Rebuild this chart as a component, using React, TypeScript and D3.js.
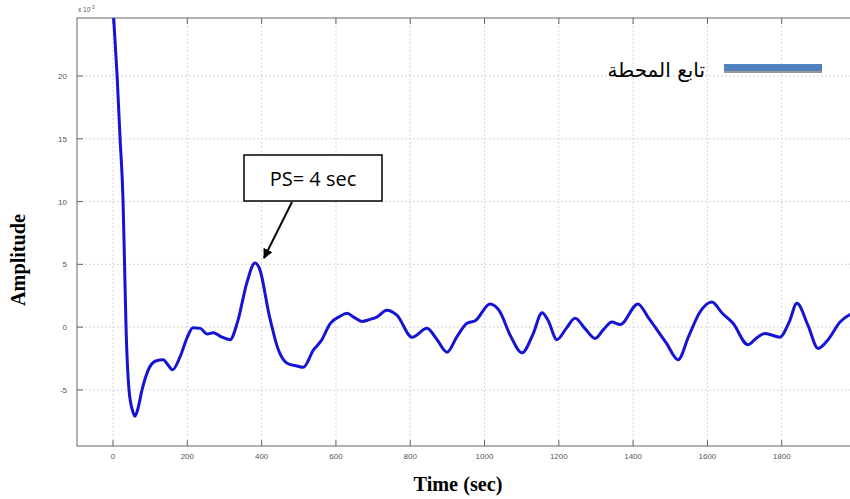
import React from "react";
import * as d3 from "d3";

// response (time in sec, amplitude in 1e-3)
const times = [0, 11, 19, 27, 31, 35, 43, 52, 59, 67, 78, 95, 115, 135, 150, 160, 180, 200, 215, 235, 253, 270, 290, 315, 335, 360, 382, 395, 420, 445, 470, 495, 512, 540, 560, 585, 610, 630, 650, 670, 690, 710, 737, 764, 805, 845, 870, 899, 925, 953, 975, 1015, 1040, 1070, 1101, 1130, 1155, 1170, 1195, 1220, 1244, 1270, 1298, 1320, 1343, 1365, 1413, 1440, 1464, 1490, 1521, 1550, 1580, 1612, 1640, 1669, 1709, 1735, 1755, 1795, 1820, 1841, 1870, 1898, 1925, 1957, 1984, 2000];
const amplitude = [25.5, 20, 15, 10, 5, 0, -5, -6.6, -7.1, -6.5, -5, -3.4, -2.7, -2.6, -3.1, -3.4, -2.4, -0.8, -0.05, -0.1, -0.55, -0.45, -0.75, -1.0, 0.4, 3.5, 5.1, 4.6, 1.0, -1.8, -2.9, -3.1, -3.2, -1.8, -1.1, 0.3, 0.85, 1.1, 0.75, 0.45, 0.6, 0.8, 1.35, 0.95, -0.8, -0.1, -0.9, -2.0, -0.8, 0.3, 0.5, 1.85, 1.3, -0.7, -2.05, -0.6, 1.15, 0.6, -1.0, -0.1, 0.7, -0.1, -0.9, -0.2, 0.4, 0.2, 1.85, 0.8, -0.2, -1.3, -2.6, -0.7, 1.2, 2.0, 1.1, 0.3, -1.4, -0.8, -0.5, -0.8, 0.4, 1.9, 0.2, -1.7, -1.0, 0.4, 1.0, 1.1];

const xTicks = [0, 200, 400, 600, 800, 1000, 1200, 1400, 1600, 1800];
const yTicks = [-5, 0, 5, 10, 15, 20];
const legendLabel = "تابع المحطة";
const noteLabel = "PS= 4 sec";

const W = 850;
const H = 499;

export default function App() {
  const left = 77, top = 18, bottom = 446, right = 856;
  const x = d3.scaleLinear().domain([-97, 2000]).range([left, right]);
  const y = d3.scaleLinear().domain([-9.47, 24.62]).range([bottom, top]);

  const pts = times.map((t, i) => [t, amplitude[i]] as [number, number]);
  const line = d3.line<[number, number]>()
    .x(d => x(d[0]))
    .y(d => y(d[1]))
    .curve(d3.curveMonotoneX);

  const axisColor = "#666";
  const gridColor = "#c8c8c8";

  return (
    <svg width={W} height={H} style={{ position: "absolute", left: 0, top: 0, background: "#fff" }}>
      <defs>
        <clipPath id="plot">
          <rect x={left} y={top} width={right - left} height={bottom - top} />
        </clipPath>
        <marker id="arrow" viewBox="0 0 10 10" refX="9" refY="5" markerWidth="5" markerHeight="5" orient="auto">
          <path d="M0,0 L10,5 L0,10 z" fill="#000" />
        </marker>
      </defs>

      {/* grid */}
      {xTicks.map(t => (
        <line key={"gx" + t} x1={x(t)} x2={x(t)} y1={top} y2={bottom}
          stroke={gridColor} strokeDasharray="1.5,2.5" />
      ))}
      {yTicks.map(v => (
        <line key={"gy" + v} x1={left} x2={right} y1={y(v)} y2={y(v)}
          stroke={gridColor} strokeDasharray="1.5,2.5" />
      ))}

      {/* axes box */}
      <rect x={left} y={top} width={right - left} height={bottom - top} fill="none" stroke={axisColor} strokeWidth={1} />
      {xTicks.map(t => (
        <g key={"tx" + t}>
          <line x1={x(t)} x2={x(t)} y1={bottom} y2={bottom - 6} stroke={axisColor} />
          <line x1={x(t)} x2={x(t)} y1={top} y2={top + 6} stroke={axisColor} />
          <text x={x(t)} y={bottom + 13} textAnchor="middle" fontFamily="Liberation Sans, Arial" fontSize={8} fill="#555">{t}</text>
        </g>
      ))}
      {yTicks.map(v => (
        <g key={"ty" + v}>
          <line x1={left} x2={left + 6} y1={y(v)} y2={y(v)} stroke={axisColor} />
          <text x={left - 10} y={y(v) + 3} textAnchor="end" fontFamily="Liberation Sans, Arial" fontSize={8} fill="#555">{v}</text>
        </g>
      ))}
      <text x={left + 1} y={top - 6} fontFamily="Liberation Sans, Arial" fontSize={6.5} fill="#555">
        x 10<tspan dy={-3} fontSize={5}>-3</tspan>
      </text>

      {/* curve */}
      <path d={line(pts) || ""} fill="none" stroke="#1414d2" strokeWidth={3} clipPath="url(#plot)" strokeLinejoin="round" />

      {/* legend */}
      <rect x={724} y={68} width={98} height={5} fill="#999" />
      <rect x={724} y={64} width={98} height={7} fill="#4f81bd" />
      <text x={705} y={77} textAnchor="end" fontFamily="DejaVu Sans, Noto Sans, sans-serif" fontSize={20} fill="#000">{legendLabel}</text>

      {/* annotation */}
      <rect x={244} y={155} width={138} height={46} fill="#fff" stroke="#000" strokeWidth={1.5} />
      <text x={313} y={186} textAnchor="middle" fontFamily="Open Sans, Liberation Sans, sans-serif" fontSize={20} fill="#000">{noteLabel}</text>
      <line x1={292} y1={202} x2={264} y2={258} stroke="#000" strokeWidth={2} markerEnd="url(#arrow)" />

      {/* axis titles */}
      <text x={458} y={491} textAnchor="middle" fontFamily="Liberation Serif, Times New Roman, serif" fontWeight="bold" fontSize={22} transform="translate(458,0) scale(0.92,1) translate(-458,0)">Time (sec)</text>
      <text transform={`translate(25,260) rotate(-90) scale(0.92,1)`} textAnchor="middle" fontFamily="Liberation Serif, Times New Roman, serif" fontWeight="bold" fontSize={22}>Amplitude</text>
    </svg>
  );
}
